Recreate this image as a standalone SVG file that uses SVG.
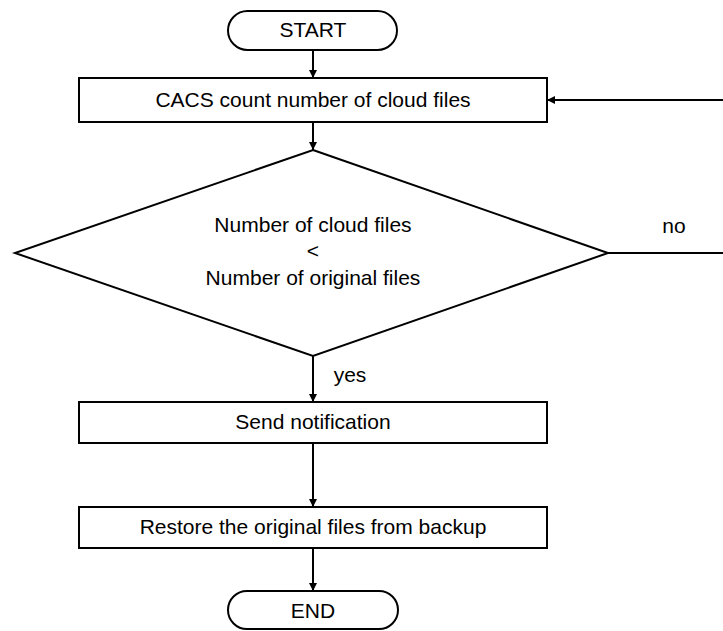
<svg xmlns="http://www.w3.org/2000/svg" width="723" height="631" viewBox="0 0 723 631">
  <defs>
    <marker id="arrow" viewBox="0 0 10 10" refX="10" refY="5" markerWidth="8" markerHeight="10" markerUnits="userSpaceOnUse" orient="auto">
      <path d="M0,0 L10,5 L0,10 Z" fill="#000"/>
    </marker>
    <style>
      .shape { fill: #fff; stroke: #000; stroke-width: 2; }
      .edge { fill: none; stroke: #000; stroke-width: 2; marker-end: url(#arrow); }
      .label { font-family: "Liberation Sans", Arial, sans-serif; font-size: 21px; fill: #000; text-anchor: middle; }
    </style>
  </defs>
  <rect width="723" height="631" fill="#fff"/>

  <g id="connectors">
    <line class="edge" x1="313" y1="50" x2="313" y2="78"/>
    <line class="edge" x1="313" y1="122" x2="313" y2="150"/>
    <line class="edge" x1="313" y1="356" x2="313" y2="402"/>
    <line class="edge" x1="313" y1="443" x2="313" y2="507"/>
    <line class="edge" x1="313" y1="548" x2="313" y2="591"/>
    <!-- "no" branch loops back to the count step -->
    <path class="edge" d="M608,253 H735 V100 H547"/>
    <text class="label" x="350" y="382">yes</text>
    <text class="label" x="674" y="233">no</text>
  </g>

  <g id="start">
    <rect class="shape" x="228" y="11" width="169" height="39" rx="19.5"/>
    <text class="label" x="313" y="37">START</text>
  </g>

  <g id="count">
    <rect class="shape" x="79" y="78" width="468" height="44"/>
    <text class="label" x="313" y="107">CACS count number of cloud files</text>
  </g>

  <g id="compare">
    <polygon class="shape" points="313,150 608,253 313,356 15,253"/>
    <text class="label" x="313" y="232">Number of cloud files</text>
    <text class="label" x="313" y="258">&lt;</text>
    <text class="label" x="313" y="285">Number of original files</text>
  </g>

  <g id="notify">
    <rect class="shape" x="79" y="402" width="468" height="41"/>
    <text class="label" x="313" y="429">Send notification</text>
  </g>

  <g id="restore">
    <rect class="shape" x="79" y="507" width="468" height="41"/>
    <text class="label" x="313" y="534">Restore the original files from backup</text>
  </g>

  <g id="end">
    <rect class="shape" x="228" y="591" width="170" height="38" rx="19"/>
    <text class="label" x="313" y="618">END</text>
  </g>
</svg>
